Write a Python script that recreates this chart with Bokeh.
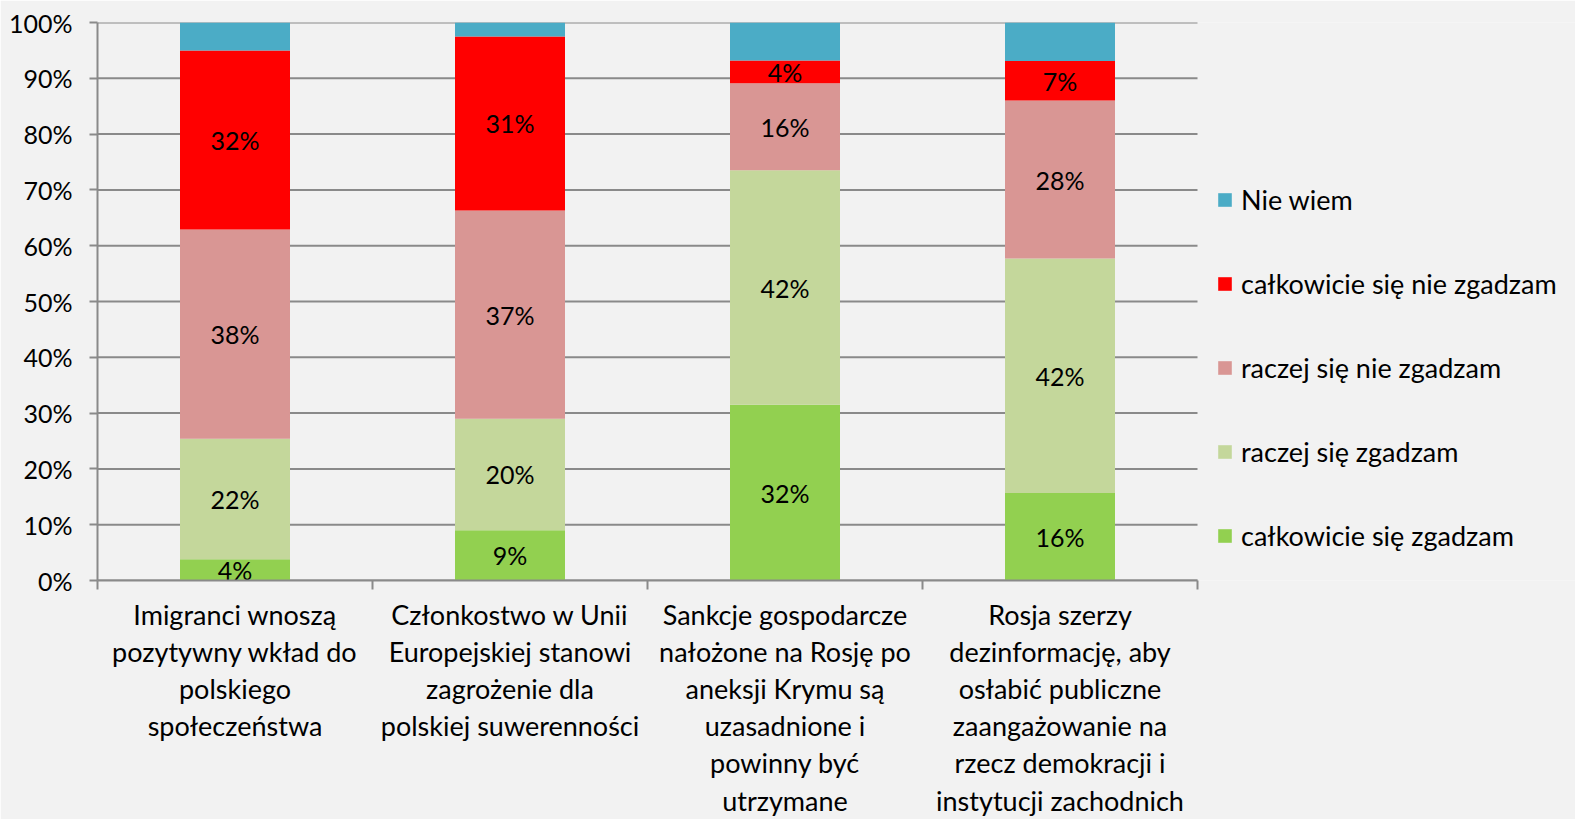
from bokeh.plotting import figure
from bokeh.models import Range1d, FixedTicker, Legend, LegendItem, ColumnDataSource
from bokeh.core.properties import value
from bokeh.embed import file_html
from bokeh.resources import INLINE

# ---- data ----
categories = [
    "Imigranci wnoszą\npozytywny wkład do\npolskiego\nspołeczeństwa",
    "Członkostwo w Unii\nEuropejskiej stanowi\nzagrożenie dla\npolskiej suwerenności",
    "Sankcje gospodarcze\nnałożone na Rosję po\naneksji Krymu są\nuzasadnione i\npowinny być\nutrzymane",
    "Rosja szerzy\ndezinformację, aby\nosłabić publiczne\nzaangażowanie na\nrzecz demokracji i\ninstytucji zachodnich",
]
series_names = [
    "całkowicie się zgadzam",
    "raczej się zgadzam",
    "raczej się nie zgadzam",
    "całkowicie się nie zgadzam",
    "Nie wiem",
]
calkowicie_zgadzam = [3.8, 9.0, 31.5, 15.7]
raczej_zgadzam = [21.6, 20.0, 42.0, 42.0]
raczej_nie_zgadzam = [37.5, 37.3, 15.6, 28.3]
calkowicie_nie_zgadzam = [32.1, 31.2, 4.1, 7.1]
nie_wiem = [5.0, 2.5, 6.8, 6.9]
labelled = [True, True, True, True, False]
y_ticks = [0, 10, 20, 30, 40, 50, 60, 70, 80, 90, 100]
y_tick_labels = ["0%", "10%", "20%", "30%", "40%", "50%", "60%", "70%", "80%", "90%", "100%"]
colors = ["#92d050", "#c4d79b", "#d99694", "#ff0000", "#4bacc6"]

FONT = "Lato"
GRAY = "#8a8a8a"
BG = "#f2f2f2"

W, H = 1575, 819
LEFT, TOP, BOTTOM = 97, 22, 239
PLOT_W = 1100          # width of the bar area in px; the rest of the frame holds the legend
n = len(categories)
x_end = n * (W - LEFT) / PLOT_W

series = [calkowicie_zgadzam, raczej_zgadzam, raczej_nie_zgadzam, calkowicie_nie_zgadzam, nie_wiem]
keys = ["s%d" % i for i in range(len(series))]
xs = [i + 0.5 for i in range(n)]
data = {"x": xs}
for k, s in zip(keys, series):
    data[k] = s
source = ColumnDataSource(data)

p = figure(width=W, height=H, output_backend="svg", toolbar_location=None,
           x_range=Range1d(0, x_end), y_range=Range1d(0, 100),
           min_border_left=LEFT, min_border_right=0, min_border_top=TOP, min_border_bottom=BOTTOM)
p.background_fill_color = BG
p.border_fill_color = BG
p.outline_line_color = None

# horizontal grid lines over the bar area only
p.segment(x0=[0] * len(y_ticks), x1=[n] * len(y_ticks), y0=y_ticks, y1=y_ticks,
          line_color=GRAY, line_width=2)

renderers = p.vbar_stack(keys, x="x", width=0.4, color=colors, line_color=None, source=source)

# data labels
lx, ly, lt = [], [], []
for i in range(n):
    cum = 0.0
    for s, lab in zip(series, labelled):
        v = s[i]
        if lab:
            lx.append(xs[i]); ly.append(cum + v / 2.0); lt.append("%d%%" % round(v))
        cum += v
p.text(x=lx, y=ly, text=lt, text_align="center", text_baseline="middle",
       text_font=value(FONT), text_font_size="25px", text_color="black")

# y axis
p.yaxis.ticker = FixedTicker(ticks=y_ticks)
p.yaxis.major_label_overrides = {t: l for t, l in zip(y_ticks, y_tick_labels)}
p.yaxis.major_label_text_font = FONT
p.yaxis.major_label_text_font_size = "25px"
p.yaxis.major_label_text_color = "black"
p.yaxis.axis_line_color = GRAY
p.yaxis.axis_line_width = 2
p.yaxis.major_tick_line_color = GRAY
p.yaxis.major_tick_line_width = 2
p.yaxis.major_tick_out = 8
p.yaxis.major_tick_in = 0
p.yaxis.minor_tick_line_color = None
p.yaxis.major_label_standoff = 17

# x axis: category labels at bar centres, boundary ticks as minor ticks
bounds = list(range(n + 1))
p.xaxis.bounds = (0, n)
p.xaxis.ticker = FixedTicker(ticks=xs, minor_ticks=bounds)
p.xaxis.major_label_overrides = {x: c for x, c in zip(xs, categories)}
p.xaxis.major_label_text_font = FONT
p.xaxis.major_label_text_font_size = "27px"
p.xaxis.major_label_text_color = "black"
p.xaxis.major_label_text_line_height = 1.128
p.xaxis.major_label_text_align = "center"
p.xaxis.major_label_standoff = 8
p.xaxis.axis_line_color = GRAY
p.xaxis.axis_line_width = 2
p.xaxis.major_tick_line_color = None
p.xaxis.major_tick_out = 0
p.xaxis.major_tick_in = 0
p.xaxis.minor_tick_line_color = GRAY
p.xaxis.minor_tick_line_width = 2
p.xaxis.minor_tick_out = 9
p.xaxis.minor_tick_in = 0

p.xgrid.grid_line_color = None
p.ygrid.grid_line_color = None

# legend
items = [LegendItem(label=nm, renderers=[r]) for nm, r in zip(series_names, renderers)][::-1]
legend = Legend(items=items, location=(PLOT_W + 19, 28), orientation="vertical")
legend.label_text_font = FONT
legend.label_text_font_size = "27px"
legend.label_text_color = "black"
legend.glyph_width = 17
legend.glyph_height = 17
legend.label_height = 33
legend.label_standoff = 8
legend.spacing = 51
legend.padding = 0
legend.margin = 0
legend.border_line_color = None
legend.background_fill_alpha = 0
p.add_layout(legend)

html = file_html(p, INLINE)
open("out.html", "w").write(html)
